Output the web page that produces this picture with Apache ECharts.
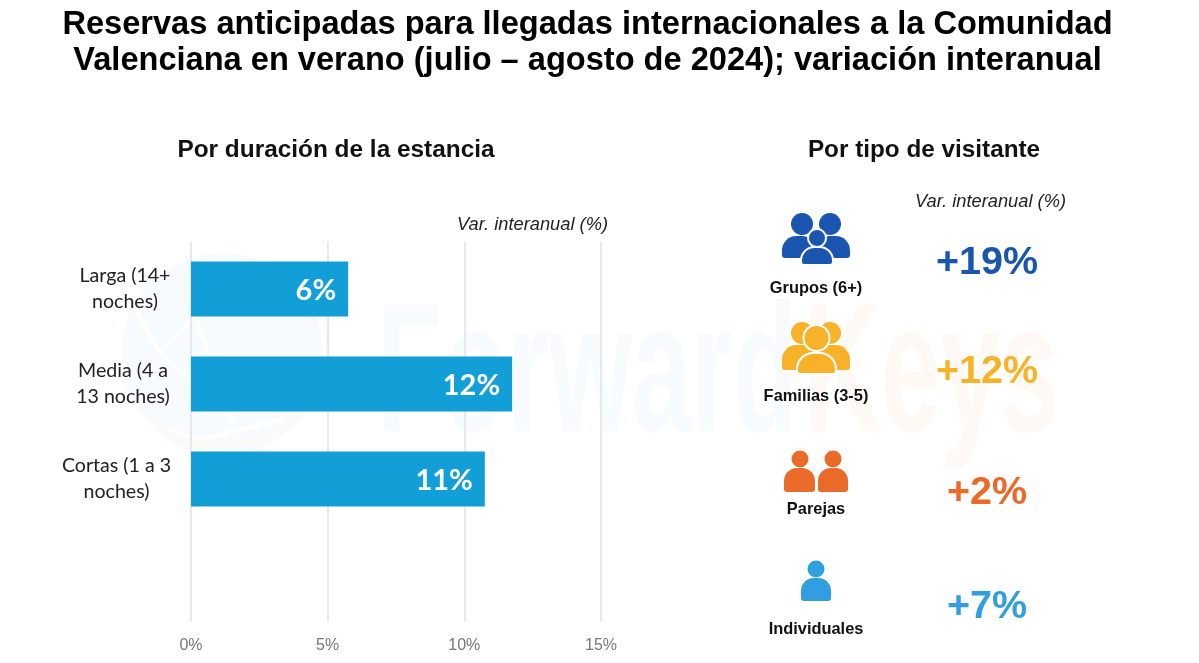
<!DOCTYPE html>
<html><head><meta charset="utf-8">
<style>html,body{margin:0;padding:0;background:#fff}#c{width:1199px;height:663px}</style>
<script src="https://cdn.jsdelivr.net/npm/echarts@6/dist/echarts.min.js"></script>
</head><body><div id="c"></div>
<script>
const titleLines = ['Reservas anticipadas para llegadas internacionales a la Comunidad','Valenciana en verano (julio – agosto de 2024); variación interanual'];
const leftTitle = 'Por duración de la estancia';
const rightTitle = 'Por tipo de visitante';
const unitLabel = 'Var. interanual (%)';
const durationCategories = ['Larga (14+\nnoches)','Media (4 a\n13 noches)','Cortas (1 a 3\nnoches)',''];
const durationValues = [5.75,11.75,10.75,null];
const durationLabels = ['6%','12%','11%',''];
const visitorTypes = ['Grupos (6+)','Familias (3-5)','Parejas','Individuales'];
const visitorValues = ['+19%','+12%','+2%','+7%'];
const visitorColors = ['#1a56b0','#f8b229','#ea6a2a','#319ee0'];
const captionY = [288,396,509,629];
const valueY = [263,372,493,607];
const labelBlockWidths = [94,98,111,10];

function head(x,y,r,fill,ring){return {type:'circle',shape:{cx:x,cy:y,r:r},style:{fill:fill,stroke:ring?'#fff':null,lineWidth:ring||0}};}
function body(x0,x1,y0,y1,fill,ring){
  const w=x1-x0,r=w*0.42;
  return {type:'rect',shape:{x:x0,y:y0,width:w,height:y1-y0,r:[r,r,3,3]},style:{fill:fill,stroke:ring?'#fff':null,lineWidth:ring||0}};
}
const c=visitorColors;
const icons = [
  [body(782,816,236,258,c[0]),body(816,850,236,258,c[0]),head(802,224,11,c[0]),head(830,224,11,c[0]),head(817,238,9,c[0],2),body(801,833,247,265,c[0],2)],
  [body(782,816,345,370,c[1]),body(816,850,345,370,c[1]),head(802,333,11,c[1]),head(830,333,11,c[1]),head(816.5,338,13,c[1],2),body(797,836,353,374,c[1],2)],
  [body(784,815,468,492,c[2]),body(818,848,468,492,c[2]),head(800,459,8.5,c[2]),head(833,459,8.5,c[2])],
  [body(801,831,578,601,c[3]),head(816,569,8.5,c[3])]
];
const graphics = [];
/* watermark */
const wmBlue='#f7fbfe', wmOrange='#fef9f5';
graphics.push({type:'circle',z:-10,shape:{cx:222,cy:354,r:101},style:{fill:wmBlue}});
[[[160,353],[130,300]],[[160,353],[235,275]],[[160,353],[235,420]],[[140,420],[200,440],[280,420],[300,380]],[[195,315],[225,400]]].forEach(p=>
  graphics.push({type:'polyline',z:-9,shape:{points:p},style:{stroke:'#fff',lineWidth:4,fill:null}}));
graphics.push({type:'arc',z:-8,shape:{cx:222,cy:340,r:106,startAngle:-0.4,endAngle:2.3},style:{stroke:wmOrange,lineWidth:5,fill:null}});
graphics.push({type:'text',z:-10,x:377,y:472,scaleX:0.58,style:{text:'Forward',font:'bold 184px "Liberation Sans"',fill:wmBlue,textVerticalAlign:'bottom'}});
graphics.push({type:'text',z:-10,x:804,y:472,scaleX:0.58,style:{text:'Keys',font:'bold 184px "Liberation Sans"',fill:wmOrange,textVerticalAlign:'bottom'}});
titleLines.forEach((t,i)=>graphics.push({type:'text',style:{text:t,x:587.5,y:25.5+i*36,font:'bold 32.6px "Liberation Sans"',fill:'#000',textAlign:'center',textVerticalAlign:'middle'}}));
graphics.push({type:'text',style:{text:leftTitle,x:336,y:150,font:'bold 24.4px "Liberation Sans"',fill:'#111',textAlign:'center',textVerticalAlign:'middle'}});
graphics.push({type:'text',style:{text:rightTitle,x:924,y:150,font:'bold 24.3px "Liberation Sans"',fill:'#111',textAlign:'center',textVerticalAlign:'middle'}});
graphics.push({type:'text',style:{text:unitLabel,x:532.5,y:225,font:'italic 18.3px "Liberation Sans"',fill:'#222',textAlign:'center',textVerticalAlign:'middle'}});
graphics.push({type:'text',style:{text:unitLabel,x:990.5,y:202,font:'italic 18.3px "Liberation Sans"',fill:'#222',textAlign:'center',textVerticalAlign:'middle'}});
visitorTypes.forEach((t,i)=>{
  icons[i].forEach(s=>graphics.push(s));
  graphics.push({type:'text',style:{text:t,x:816,y:captionY[i],font:'bold 16.4px "Liberation Sans"',fill:'#111',textAlign:'center',textVerticalAlign:'middle'}});
  graphics.push({type:'text',style:{text:visitorValues[i],x:987,y:valueY[i],font:'bold 39.5px "Liberation Sans"',fill:visitorColors[i],textAlign:'center',textVerticalAlign:'middle'}});
});
const catStyle=w=>({width:w,align:'center',color:'#222',fontSize:19.6,lineHeight:26,fontFamily:'Lato'});
const rich={};labelBlockWidths.forEach((w,i)=>rich['c'+i]=catStyle(w));
const chart = echarts.init(document.getElementById('c'),null,{renderer:'canvas'});
chart.setOption({
  animation:false,
  backgroundColor:'#fff',
  graphic:graphics,
  grid:{left:191,top:241.5,width:410,height:380},
  xAxis:{type:'value',min:0,max:15,interval:5,
    axisLine:{show:false},axisTick:{show:false},
    splitLine:{show:true,lineStyle:{color:'#e2e2e2',width:1.5}},
    axisLabel:{formatter:'{value}%',color:'#777',fontSize:16,fontFamily:'Liberation Sans',margin:16.5}},
  yAxis:{type:'category',inverse:true,data:durationCategories,
    axisLine:{show:false},axisTick:{show:false},splitLine:{show:false},
    axisLabel:{margin:19,align:'right',interval:0,rich,
      formatter:(v,i)=>v?v.split('\n').map(l=>`{c${i}|${l}}`).join('\n'):''}},
  series:[{type:'bar',data:durationValues,barWidth:55,itemStyle:{color:'#129fd8'},
    label:{show:true,position:'insideRight',distance:12,offset:[0,2],color:'#fff',fontSize:29,fontWeight:'bold',fontFamily:'Lato',
      formatter:p=>durationLabels[p.dataIndex]}}]
});
</script></body></html>
